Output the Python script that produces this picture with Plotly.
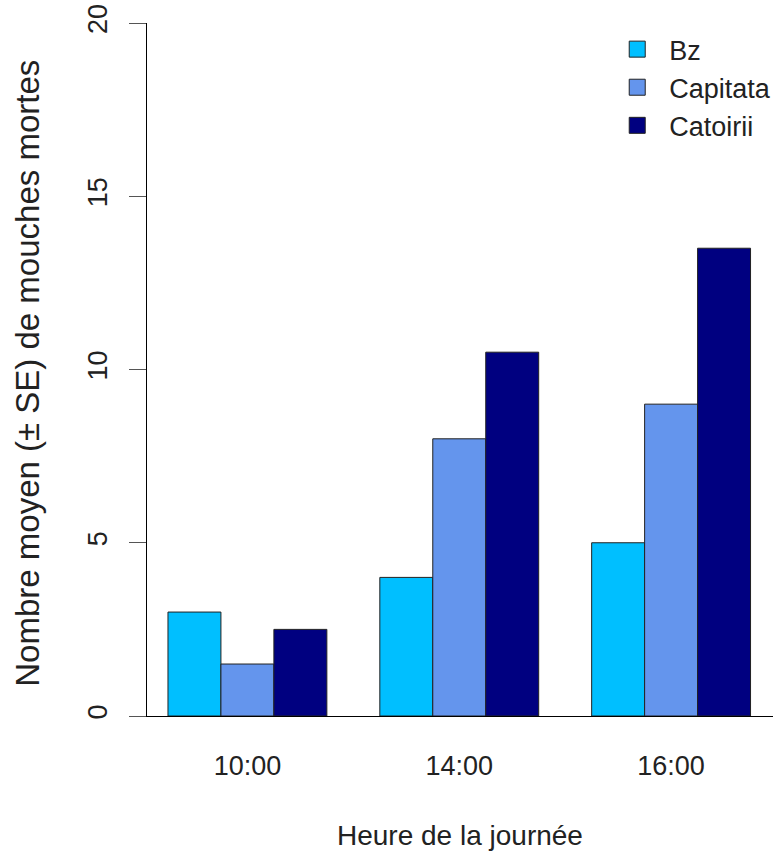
import plotly.graph_objects as go

hours = ["10:00", "14:00", "16:00"]
series_names = ["Bz", "Capitata", "Catoirii"]
bz = [3.0, 4.0, 5.0]
capitata = [1.5, 8.0, 9.0]
catoirii = [2.5, 10.5, 13.5]
colors = ["#00BFFF", "#6495ED", "#000080"]
y_ticks = [0, 5, 10, 15, 20]

FONT = "Liberation Sans, Arial, sans-serif"

fig = go.Figure()
xpos = list(range(len(hours)))
for name, vals, col in zip(series_names, [bz, capitata, catoirii], colors):
    fig.add_trace(go.Bar(
        x=xpos, y=vals, name=name, marker=dict(color=col, line=dict(color="#222222", width=1)),
        showlegend=False,
    ))
    fig.add_trace(go.Scatter(
        x=[None], y=[None], mode="markers", name=name,
        marker=dict(symbol="square", size=16, color=col, line=dict(color="#222222", width=1)),
        showlegend=True,
    ))

fig.update_layout(
    width=779, height=852,
    margin=dict(l=147, r=6, t=23, b=136, autoexpand=False),
    paper_bgcolor="white", plot_bgcolor="white",
    barmode="group", bargap=0.25, bargroupgap=0,
    font=dict(family=FONT, color="black"),
    legend=dict(
        x=0.732, y=0.997, xanchor="left", yanchor="top",
        font=dict(size=27, family=FONT, color="#222222"), bgcolor="rgba(0,0,0,0)",
        itemsizing="trace", tracegroupgap=0, itemwidth=54,
    ),
    xaxis=dict(
        range=[-0.474, 2.481], tickmode="array", tickvals=xpos, ticktext=hours,
        showgrid=False, zeroline=False, showline=True, linecolor="black", linewidth=1,
        ticks="", tickfont=dict(size=27, color="#222222"), ticklabelstandoff=26,
        automargin=False,
    ),
    yaxis=dict(
        range=[0, 20], tickmode="array", tickvals=y_ticks, ticktext=[str(v) for v in y_ticks],
        showgrid=False, zeroline=False, showline=True, linecolor="black", linewidth=1,
        ticks="outside", ticklen=17, tickcolor="#555555", tickwidth=1,
        tickangle=-90, tickfont=dict(size=27, color="#222222"), ticklabelstandoff=11,
        automargin=False,
    ),
    annotations=[
        dict(text="Heure de la journée", x=0.5, y=-0.172, xref="paper", yref="paper",
             xanchor="center", yanchor="middle", showarrow=False,
             font=dict(size=28, family=FONT, color="#222222")),
        dict(text="Nombre moyen (± SE) de mouches mortes", x=-0.19, y=0.494,
             xref="paper", yref="paper", xanchor="center", yanchor="middle",
             textangle=-90, showarrow=False,
             font=dict(size=33, family=FONT, color="#222222")),
    ],
)

fig.write_html("out.html", config={"displayModeBar": False},
               post_script="document.body.style.margin='0';")
